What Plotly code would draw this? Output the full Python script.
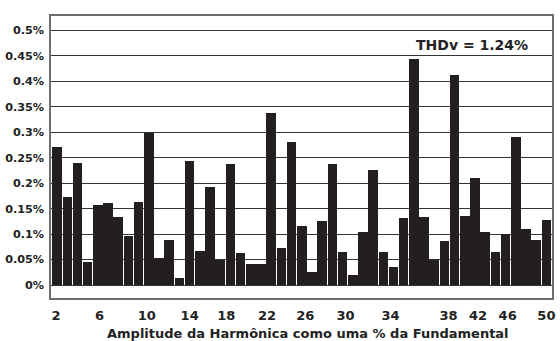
import plotly.graph_objects as go

# Harmonic orders and their amplitude as % of the fundamental
harmonics = list(range(2, 51))
amplitude_pct = [
    0.271, 0.172, 0.240, 0.045, 0.158, 0.161, 0.134, 0.096, 0.163, 0.298,
    0.053, 0.088, 0.014, 0.244, 0.067, 0.192, 0.049, 0.238, 0.062, 0.041,
    0.041, 0.337, 0.072, 0.281, 0.116, 0.026, 0.125, 0.238, 0.064, 0.020,
    0.104, 0.226, 0.064, 0.036, 0.131, 0.444, 0.134, 0.050, 0.087, 0.413,
    0.135, 0.210, 0.104, 0.065, 0.101, 0.290, 0.110, 0.089, 0.127,
]

# Axis labelling
x_tick_labels = ["2", "6", "10", "14", "18", "22", "26", "30", "34", "38", "42", "46", "50"]
x_tick_pos = [1.9, 6.15, 10.8, 15.0, 18.6, 22.6, 26.35, 30.3, 34.7, 40.4, 43.3, 46.2, 50.0]
y_tick_vals = [0, 0.05, 0.1, 0.15, 0.2, 0.25, 0.3, 0.35, 0.4, 0.45, 0.5]
y_tick_text = ["0%", "0.05%", "0.1%", "0.15%", "0.2%", "0.25%", "0.3%",
               "0.35%", "0.4%", "0.45%", "0.5%"]
thd_label = "THDv = 1.24%"
x_title = "Amplitude da Harmônica como uma % da Fundamental"

FONT = "DejaVu Sans, sans-serif"
INK = "#222222"

fig = go.Figure(
    go.Bar(
        x=harmonics,
        y=amplitude_pct,
        width=0.94,
        marker=dict(color="#231f20", line=dict(width=0)),
    )
)

# THD summary in the upper-right corner of the plot
fig.add_annotation(
    x=48.4, y=0.4715, xref="x", yref="y",
    text=f"<b>{thd_label}</b>", showarrow=False, xanchor="right", yanchor="middle",
    font=dict(family=FONT, size=14, color=INK),
)

# x-axis title
fig.add_annotation(
    x=0.513, y=0, xref="paper", yref="paper", yshift=-35,
    text=f"<b>{x_title}</b>", showarrow=False, xanchor="center", yanchor="middle",
    font=dict(family=FONT, size=13, color=INK),
)

fig.update_layout(
    width=560, height=341,
    margin=dict(l=48, r=5, t=16, b=43),
    paper_bgcolor="white", plot_bgcolor="white",
    showlegend=False,
    bargap=0,
    xaxis=dict(
        range=[1.4, 50.55],
        tickmode="array", tickvals=x_tick_pos, ticktext=[f"<b>{t}</b>" for t in x_tick_labels],
        tickfont=dict(family=FONT, size=13, color=INK),
        ticks="", ticklabelstandoff=5,
        showgrid=False, zeroline=False,
        showline=True, linecolor="#6e6e6e", linewidth=1.5, mirror=True,
    ),
    yaxis=dict(
        range=[-0.0255, 0.5285],
        tickmode="array", tickvals=y_tick_vals, ticktext=[f"<b>{t}</b>" for t in y_tick_text],
        tickfont=dict(family=FONT, size=11.2, color=INK),
        ticks="", ticklabelstandoff=3,
        showgrid=True, gridcolor="#333333", gridwidth=1,
        zeroline=False,
        showline=True, linecolor="#6e6e6e", linewidth=1.5, mirror=True,
    ),
)

fig.write_html("out.html")
